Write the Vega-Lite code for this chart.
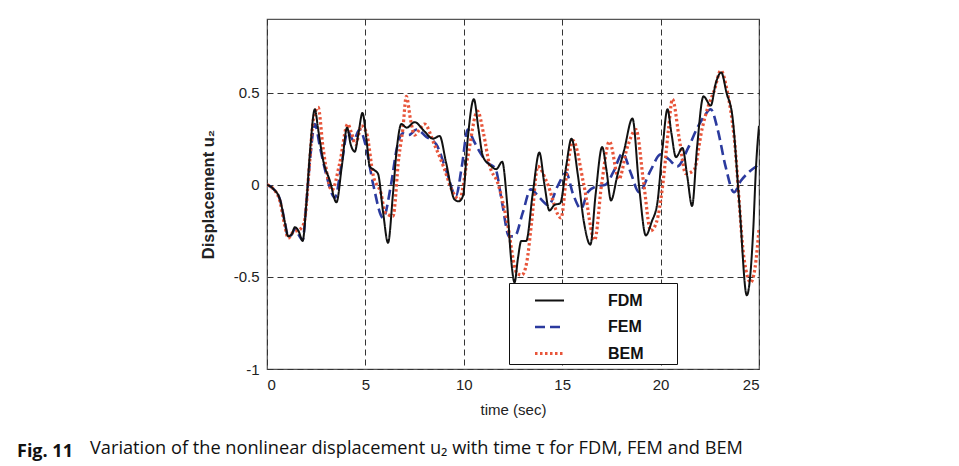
{
  "$schema": "https://vega.github.io/schema/vega-lite/v6.json",
  "autosize": {"type": "none"},
  "padding": {"left": 267, "top": 19, "right": 200, "bottom": 97},
  "width": 492,
  "height": 350,
  "background": "white",
  "title": {
    "text": "Fig. 11",
    "subtitle": "Variation of the nonlinear displacement u\u2082 with time \u03c4 for FDM, FEM and BEM",
    "orient": "bottom",
    "anchor": "start",
    "frame": "group",
    "dx": -250,
    "dy": 12,
    "offset": 14,
    "font": "Open Sans",
    "fontSize": 18,
    "fontWeight": "bold",
    "color": "#111",
    "subtitleFont": "Open Sans",
    "subtitleFontSize": 18.2,
    "subtitleFontWeight": "normal",
    "subtitleColor": "#111",
    "subtitlePadding": -21,
    "encode": {"subtitle": {"update": {"dx": {"value": -177}}}}
  },
  "data": {
    "values": [
      {"t": 0, "u": 0, "method": "FEM"},
      {"t": 0.3, "u": -0.02, "method": "FEM"},
      {"t": 0.66, "u": -0.08, "method": "FEM"},
      {"t": 0.9, "u": -0.2, "method": "FEM"},
      {"t": 1.08, "u": -0.28, "method": "FEM"},
      {"t": 1.25, "u": -0.27, "method": "FEM"},
      {"t": 1.42, "u": -0.24, "method": "FEM"},
      {"t": 1.6, "u": -0.27, "method": "FEM"},
      {"t": 1.81, "u": -0.3, "method": "FEM"},
      {"t": 2.0, "u": -0.1, "method": "FEM"},
      {"t": 2.2, "u": 0.15, "method": "FEM"},
      {"t": 2.43, "u": 0.33, "method": "FEM"},
      {"t": 2.7, "u": 0.2, "method": "FEM"},
      {"t": 3.0, "u": 0.06, "method": "FEM"},
      {"t": 3.45, "u": -0.07, "method": "FEM"},
      {"t": 3.8, "u": 0.12, "method": "FEM"},
      {"t": 4.1, "u": 0.29, "method": "FEM"},
      {"t": 4.4, "u": 0.24, "method": "FEM"},
      {"t": 4.7, "u": 0.3, "method": "FEM"},
      {"t": 5.0, "u": 0.22, "method": "FEM"},
      {"t": 5.4, "u": 0.0, "method": "FEM"},
      {"t": 5.9, "u": -0.18, "method": "FEM"},
      {"t": 6.3, "u": 0.0, "method": "FEM"},
      {"t": 6.6, "u": 0.2, "method": "FEM"},
      {"t": 6.9, "u": 0.28, "method": "FEM"},
      {"t": 7.2, "u": 0.27, "method": "FEM"},
      {"t": 7.6, "u": 0.3, "method": "FEM"},
      {"t": 8.1, "u": 0.26, "method": "FEM"},
      {"t": 8.6, "u": 0.22, "method": "FEM"},
      {"t": 9.1, "u": 0.08, "method": "FEM"},
      {"t": 9.6, "u": -0.06, "method": "FEM"},
      {"t": 9.9, "u": 0.1, "method": "FEM"},
      {"t": 10.2, "u": 0.3, "method": "FEM"},
      {"t": 10.5, "u": 0.24, "method": "FEM"},
      {"t": 10.8, "u": 0.18, "method": "FEM"},
      {"t": 11.2, "u": 0.12, "method": "FEM"},
      {"t": 11.6, "u": 0.09, "method": "FEM"},
      {"t": 11.95, "u": -0.1, "method": "FEM"},
      {"t": 12.3, "u": -0.28, "method": "FEM"},
      {"t": 12.58, "u": -0.28, "method": "FEM"},
      {"t": 13.0, "u": -0.15, "method": "FEM"},
      {"t": 13.4, "u": -0.025, "method": "FEM"},
      {"t": 13.85, "u": -0.07, "method": "FEM"},
      {"t": 14.3, "u": -0.11, "method": "FEM"},
      {"t": 14.8, "u": 0.0, "method": "FEM"},
      {"t": 15.2, "u": 0.065, "method": "FEM"},
      {"t": 15.55, "u": -0.05, "method": "FEM"},
      {"t": 15.96, "u": -0.13, "method": "FEM"},
      {"t": 16.3, "u": -0.04, "method": "FEM"},
      {"t": 16.7, "u": -0.01, "method": "FEM"},
      {"t": 17.2, "u": 0.0, "method": "FEM"},
      {"t": 17.6, "u": 0.07, "method": "FEM"},
      {"t": 18.07, "u": 0.17, "method": "FEM"},
      {"t": 18.5, "u": 0.06, "method": "FEM"},
      {"t": 18.9, "u": -0.04, "method": "FEM"},
      {"t": 19.5, "u": 0.08, "method": "FEM"},
      {"t": 20.0, "u": 0.165, "method": "FEM"},
      {"t": 20.4, "u": 0.14, "method": "FEM"},
      {"t": 20.85, "u": 0.1, "method": "FEM"},
      {"t": 21.4, "u": 0.2, "method": "FEM"},
      {"t": 21.87, "u": 0.31, "method": "FEM"},
      {"t": 22.2, "u": 0.37, "method": "FEM"},
      {"t": 22.55, "u": 0.41, "method": "FEM"},
      {"t": 22.9, "u": 0.3, "method": "FEM"},
      {"t": 23.3, "u": 0.1, "method": "FEM"},
      {"t": 23.73, "u": -0.04, "method": "FEM"},
      {"t": 24.07, "u": 0.02, "method": "FEM"},
      {"t": 24.5, "u": 0.07, "method": "FEM"},
      {"t": 25, "u": 0.11, "method": "FEM"},

      {"t": 0, "u": 0, "method": "BEM"},
      {"t": 0.3, "u": -0.02, "method": "BEM"},
      {"t": 0.66, "u": -0.09, "method": "BEM"},
      {"t": 0.9, "u": -0.22, "method": "BEM"},
      {"t": 1.08, "u": -0.29, "method": "BEM"},
      {"t": 1.3, "u": -0.26, "method": "BEM"},
      {"t": 1.5, "u": -0.25, "method": "BEM"},
      {"t": 1.7, "u": -0.24, "method": "BEM"},
      {"t": 1.9, "u": -0.2, "method": "BEM"},
      {"t": 2.15, "u": 0.1, "method": "BEM"},
      {"t": 2.35, "u": 0.35, "method": "BEM"},
      {"t": 2.6, "u": 0.42, "method": "BEM"},
      {"t": 2.85, "u": 0.2, "method": "BEM"},
      {"t": 3.3, "u": -0.03, "method": "BEM"},
      {"t": 3.7, "u": 0.12, "method": "BEM"},
      {"t": 4.1, "u": 0.33, "method": "BEM"},
      {"t": 4.3, "u": 0.28, "method": "BEM"},
      {"t": 4.5, "u": 0.22, "method": "BEM"},
      {"t": 4.8, "u": 0.32, "method": "BEM"},
      {"t": 5.06, "u": 0.28, "method": "BEM"},
      {"t": 5.4, "u": 0.05, "method": "BEM"},
      {"t": 5.8, "u": -0.05, "method": "BEM"},
      {"t": 6.0, "u": -0.15, "method": "BEM"},
      {"t": 6.4, "u": -0.17, "method": "BEM"},
      {"t": 6.7, "u": 0.15, "method": "BEM"},
      {"t": 6.9, "u": 0.3, "method": "BEM"},
      {"t": 7.08, "u": 0.48, "method": "BEM"},
      {"t": 7.3, "u": 0.35, "method": "BEM"},
      {"t": 7.5, "u": 0.27, "method": "BEM"},
      {"t": 7.75, "u": 0.3, "method": "BEM"},
      {"t": 8.0, "u": 0.33, "method": "BEM"},
      {"t": 8.5, "u": 0.22, "method": "BEM"},
      {"t": 9.0, "u": 0.09, "method": "BEM"},
      {"t": 9.4, "u": -0.03, "method": "BEM"},
      {"t": 9.78, "u": -0.08, "method": "BEM"},
      {"t": 10.2, "u": 0.15, "method": "BEM"},
      {"t": 10.7, "u": 0.4, "method": "BEM"},
      {"t": 11.0, "u": 0.28, "method": "BEM"},
      {"t": 11.3, "u": 0.11, "method": "BEM"},
      {"t": 11.74, "u": 0.005, "method": "BEM"},
      {"t": 12.2, "u": -0.2, "method": "BEM"},
      {"t": 12.7, "u": -0.48, "method": "BEM"},
      {"t": 12.95, "u": -0.49, "method": "BEM"},
      {"t": 13.2, "u": -0.42, "method": "BEM"},
      {"t": 13.45, "u": -0.2, "method": "BEM"},
      {"t": 13.76, "u": 0.1, "method": "BEM"},
      {"t": 14.2, "u": 0.02, "method": "BEM"},
      {"t": 14.94, "u": -0.18, "method": "BEM"},
      {"t": 15.25, "u": 0.08, "method": "BEM"},
      {"t": 15.55, "u": 0.24, "method": "BEM"},
      {"t": 16.1, "u": 0.0, "method": "BEM"},
      {"t": 16.65, "u": -0.3, "method": "BEM"},
      {"t": 17.0, "u": 0.0, "method": "BEM"},
      {"t": 17.4, "u": 0.235, "method": "BEM"},
      {"t": 17.88, "u": 0.03, "method": "BEM"},
      {"t": 18.3, "u": 0.2, "method": "BEM"},
      {"t": 18.75, "u": 0.3, "method": "BEM"},
      {"t": 19.15, "u": 0.0, "method": "BEM"},
      {"t": 19.5, "u": -0.25, "method": "BEM"},
      {"t": 19.8, "u": -0.2, "method": "BEM"},
      {"t": 20.1, "u": -0.01, "method": "BEM"},
      {"t": 20.4, "u": 0.3, "method": "BEM"},
      {"t": 20.6, "u": 0.465, "method": "BEM"},
      {"t": 20.95, "u": 0.25, "method": "BEM"},
      {"t": 21.28, "u": 0.06, "method": "BEM"},
      {"t": 21.7, "u": 0.08, "method": "BEM"},
      {"t": 22.1, "u": 0.3, "method": "BEM"},
      {"t": 22.4, "u": 0.42, "method": "BEM"},
      {"t": 22.72, "u": 0.51, "method": "BEM"},
      {"t": 23.06, "u": 0.62, "method": "BEM"},
      {"t": 23.4, "u": 0.5, "method": "BEM"},
      {"t": 23.73, "u": 0.265, "method": "BEM"},
      {"t": 24.24, "u": -0.4, "method": "BEM"},
      {"t": 24.58, "u": -0.53, "method": "BEM"},
      {"t": 24.8, "u": -0.45, "method": "BEM"},
      {"t": 25, "u": -0.24, "method": "BEM"},

      {"t": 0, "u": 0, "method": "FDM"},
      {"t": 0.3, "u": -0.02, "method": "FDM"},
      {"t": 0.66, "u": -0.08, "method": "FDM"},
      {"t": 0.9, "u": -0.2, "method": "FDM"},
      {"t": 1.08, "u": -0.28, "method": "FDM"},
      {"t": 1.25, "u": -0.27, "method": "FDM"},
      {"t": 1.42, "u": -0.23, "method": "FDM"},
      {"t": 1.6, "u": -0.25, "method": "FDM"},
      {"t": 1.81, "u": -0.305, "method": "FDM"},
      {"t": 2.0, "u": -0.1, "method": "FDM"},
      {"t": 2.2, "u": 0.2, "method": "FDM"},
      {"t": 2.43, "u": 0.41, "method": "FDM"},
      {"t": 2.6, "u": 0.3, "method": "FDM"},
      {"t": 2.84, "u": 0.14, "method": "FDM"},
      {"t": 3.2, "u": 0.02, "method": "FDM"},
      {"t": 3.53, "u": -0.095, "method": "FDM"},
      {"t": 3.8, "u": 0.1, "method": "FDM"},
      {"t": 4.07, "u": 0.31, "method": "FDM"},
      {"t": 4.25, "u": 0.22, "method": "FDM"},
      {"t": 4.46, "u": 0.18, "method": "FDM"},
      {"t": 4.65, "u": 0.28, "method": "FDM"},
      {"t": 4.85, "u": 0.39, "method": "FDM"},
      {"t": 5.05, "u": 0.25, "method": "FDM"},
      {"t": 5.22, "u": 0.1, "method": "FDM"},
      {"t": 5.45, "u": 0.08, "method": "FDM"},
      {"t": 5.64, "u": 0.06, "method": "FDM"},
      {"t": 5.9, "u": -0.15, "method": "FDM"},
      {"t": 6.15, "u": -0.315, "method": "FDM"},
      {"t": 6.4, "u": -0.05, "method": "FDM"},
      {"t": 6.6, "u": 0.2, "method": "FDM"},
      {"t": 6.83, "u": 0.33, "method": "FDM"},
      {"t": 7.1, "u": 0.31, "method": "FDM"},
      {"t": 7.5, "u": 0.34, "method": "FDM"},
      {"t": 8.0, "u": 0.29, "method": "FDM"},
      {"t": 8.43, "u": 0.25, "method": "FDM"},
      {"t": 8.77, "u": 0.265, "method": "FDM"},
      {"t": 9.1, "u": 0.12, "method": "FDM"},
      {"t": 9.53, "u": -0.08, "method": "FDM"},
      {"t": 9.75, "u": -0.09, "method": "FDM"},
      {"t": 9.96, "u": -0.06, "method": "FDM"},
      {"t": 10.2, "u": 0.25, "method": "FDM"},
      {"t": 10.51, "u": 0.465, "method": "FDM"},
      {"t": 10.75, "u": 0.3, "method": "FDM"},
      {"t": 10.97, "u": 0.155, "method": "FDM"},
      {"t": 11.3, "u": 0.11, "method": "FDM"},
      {"t": 11.65, "u": 0.085, "method": "FDM"},
      {"t": 11.95, "u": 0.125, "method": "FDM"},
      {"t": 12.2, "u": -0.1, "method": "FDM"},
      {"t": 12.4, "u": -0.4, "method": "FDM"},
      {"t": 12.58, "u": -0.53, "method": "FDM"},
      {"t": 12.75, "u": -0.4, "method": "FDM"},
      {"t": 12.92, "u": -0.305, "method": "FDM"},
      {"t": 13.17, "u": -0.305, "method": "FDM"},
      {"t": 13.5, "u": -0.05, "method": "FDM"},
      {"t": 13.84, "u": 0.175, "method": "FDM"},
      {"t": 14.1, "u": 0.0, "method": "FDM"},
      {"t": 14.35, "u": -0.14, "method": "FDM"},
      {"t": 14.6, "u": -0.11, "method": "FDM"},
      {"t": 14.9, "u": -0.1, "method": "FDM"},
      {"t": 15.2, "u": 0.1, "method": "FDM"},
      {"t": 15.47, "u": 0.25, "method": "FDM"},
      {"t": 15.8, "u": 0.05, "method": "FDM"},
      {"t": 16.1, "u": -0.2, "method": "FDM"},
      {"t": 16.43, "u": -0.325, "method": "FDM"},
      {"t": 16.7, "u": -0.05, "method": "FDM"},
      {"t": 17.03, "u": 0.205, "method": "FDM"},
      {"t": 17.25, "u": 0.08, "method": "FDM"},
      {"t": 17.48, "u": -0.085, "method": "FDM"},
      {"t": 17.8, "u": 0.05, "method": "FDM"},
      {"t": 18.15, "u": 0.19, "method": "FDM"},
      {"t": 18.57, "u": 0.36, "method": "FDM"},
      {"t": 18.9, "u": 0.0, "method": "FDM"},
      {"t": 19.25, "u": -0.275, "method": "FDM"},
      {"t": 19.55, "u": -0.2, "method": "FDM"},
      {"t": 19.84, "u": -0.095, "method": "FDM"},
      {"t": 20.1, "u": 0.2, "method": "FDM"},
      {"t": 20.35, "u": 0.41, "method": "FDM"},
      {"t": 20.55, "u": 0.28, "method": "FDM"},
      {"t": 20.78, "u": 0.15, "method": "FDM"},
      {"t": 21.11, "u": 0.2, "method": "FDM"},
      {"t": 21.35, "u": 0.05, "method": "FDM"},
      {"t": 21.6, "u": -0.115, "method": "FDM"},
      {"t": 21.85, "u": 0.2, "method": "FDM"},
      {"t": 22.18, "u": 0.48, "method": "FDM"},
      {"t": 22.55, "u": 0.43, "method": "FDM"},
      {"t": 22.8, "u": 0.55, "method": "FDM"},
      {"t": 23.08, "u": 0.61, "method": "FDM"},
      {"t": 23.35, "u": 0.5, "method": "FDM"},
      {"t": 23.65, "u": 0.37, "method": "FDM"},
      {"t": 24.0, "u": -0.1, "method": "FDM"},
      {"t": 24.38, "u": -0.6, "method": "FDM"},
      {"t": 24.55, "u": -0.5, "method": "FDM"},
      {"t": 24.7, "u": -0.26, "method": "FDM"},
      {"t": 24.85, "u": 0.1, "method": "FDM"},
      {"t": 25, "u": 0.32, "method": "FDM"}
    ]
  },
  "mark": {"type": "line", "interpolate": "monotone", "strokeCap": "butt", "clip": true},
  "encoding": {
    "x": {
      "field": "t",
      "type": "quantitative",
      "scale": {"domain": [0, 25], "nice": false},
      "axis": {
        "title": "time (sec)",
        "values": [0, 5, 10, 15, 20, 25],
        "labelPadding": 8,
        "titlePadding": 10
      }
    },
    "y": {
      "field": "u",
      "type": "quantitative",
      "scale": {"domain": [-1, 0.9], "nice": false, "zero": false},
      "axis": {
        "title": "Displacement u\u2082",
        "values": [-1, -0.5, 0, 0.5],
        "labelExpr": "toString(datum.value)",
        "labelPadding": 8,
        "titlePadding": 17,
        "titleFontWeight": "bold",
        "titleFontSize": 16.5
      }
    },
    "color": {
      "field": "method",
      "type": "nominal",
      "scale": {"domain": ["FDM", "FEM", "BEM"], "range": ["#111111", "#2b3a9e", "#e8553a"]},
      "legend": {
        "orient": "none",
        "legendX": 242,
        "legendY": 264,
        "title": null,
        "strokeColor": "#111",
        "fillColor": "#ffffff",
        "padding": 2,
        "symbolType": "stroke",
        "symbolSize": 841,
        "symbolStrokeWidth": 3,
        "symbolOffset": 22,
        "rowPadding": 2,
        "labelFont": "Liberation Sans",
        "labelFontSize": 16,
        "labelFontWeight": "bold",
        "labelColor": "#111",
        "labelOffset": 42,
        "labelExpr": "datum.label + '\u00a0\u00a0\u00a0\u00a0\u00a0\u00a0\u00a0\u200d'"
      }
    },
    "strokeDash": {
      "field": "method",
      "type": "nominal",
      "scale": {"domain": ["FDM", "FEM", "BEM"], "range": [[1, 0], [10, 5], [2.5, 2.5]]}
    },
    "strokeWidth": {
      "field": "method",
      "type": "nominal",
      "scale": {"domain": ["FDM", "FEM", "BEM"], "range": [2, 3.2, 3.2]}
    }
  },
  "config": {
    "view": {"stroke": "#555", "strokeWidth": 1.2},
    "axis": {
      "grid": true,
      "gridDash": [6, 4],
      "gridColor": "#333",
      "gridOpacity": 1,
      "gridWidth": 1,
      "domain": false,
      "ticks": false,
      "labelFont": "Liberation Sans",
      "labelFontSize": 15,
      "labelColor": "#222",
      "titleFont": "Liberation Sans",
      "titleFontSize": 15,
      "titleFontWeight": "normal",
      "titleColor": "#222"
    }
  }
}
